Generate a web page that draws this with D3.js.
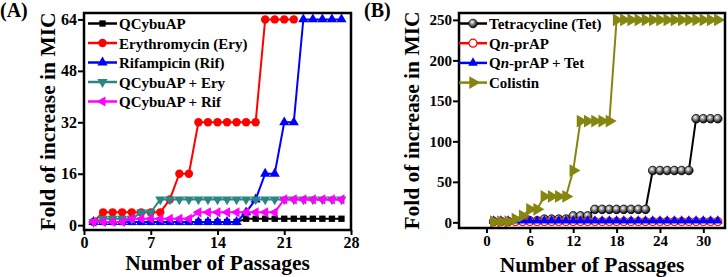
<!DOCTYPE html>
<html><head><meta charset="utf-8">
<script src="https://cdn.jsdelivr.net/npm/d3@7"></script>
<style>body{margin:0;background:#fff}svg{display:block}</style>
</head><body>
<script>
// ---------- Panel A data ----------
const passagesA = d3.range(1, 28);
const qcybuap   = [1,1,1,1,1,1,1,1,1,1,1,1,1,1,1,1,2,2,2,2,2,2,2,2,2,2,2];
const ery       = [1,4,4,4,4,4,4,4,8,16,16,32,32,32,32,32,32,32,64,64,64,64];
const rif       = [1,1,1,1,1,1,1,1,1,1,1,1,1,1,1,1,4,8,16,16,32,32,64,64,64,64,64];
const qEry      = [1,2,2,2,2,4,4,8,8,8,8,8,8,8,8,8,8,8,8,8,8,8,8,8,8,8,8];
const qRif      = [1,1,1,1,2,2,2,2,2,2,2,4,4,4,4,4,4,4,4,4,8,8,8,8,8,8,8];
const xTicksA = [0,7,14,21,28];
const yTicksA = [0,16,32,48,64];
const namesA = ["QCybuAP","Erythromycin (Ery)","Rifampicin (Rif)","QCybuAP + Ery","QCybuAP + Rif"];

// ---------- Panel B data ----------
const passagesB = d3.range(1, 33);
const tet      = [1,1,1,2,2,2,2,4,4,4,4,8,8,8,16,16,16,16,16,16,16,16,64,64,64,64,64,64,128,128,128,128];
const qnprap   = [1,1,1,1,1,1,1,1,1,1,1,1,1,1,1,1,1,1,1,1,1,1,1,1,1,1,1,1,1,1,1,1];
const qnTet    = [2,2,2,2,2,2,2,2,2,2,2,2,2,2,2,2,2,2,2,2,2,2,2,2,2,2,2,2,2,2,2,2];
const colistin = [1,1,1,4,8,16,16,32,32,32,32,64,125,125,125,125,125,250,250,250,250,250,250,250,250,250,250,250,250,250,250,250];
const xTicksB = [0,6,12,18,24,30];
const yTicksB = [0,50,100,150,200,250];
const namesB = ["Tetracycline (Tet)", "Qn-prAP", "Qn-prAP + Tet", "Colistin"];

const FONT = "Liberation Serif, Liberation Sans, sans-serif";
const svg = d3.select("body").append("svg").attr("width",728).attr("height",277);
const defs = svg.append("defs");
const g = defs.append("radialGradient").attr("id","sph").attr("cx","40%").attr("cy","35%").attr("r","65%");
g.append("stop").attr("offset","0%").attr("stop-color","#ffffff");
g.append("stop").attr("offset","35%").attr("stop-color","#9a9a9a");
g.append("stop").attr("offset","100%").attr("stop-color","#000000");

function sym(type, size){ return d3.symbol().type(type).size(size)(); }
const triDown = {draw(ctx,size){const s=Math.sqrt(size/ (Math.sqrt(3)/4)); const h=s*Math.sqrt(3)/2; ctx.moveTo(-s/2,-h/3); ctx.lineTo(s/2,-h/3); ctx.lineTo(0,2*h/3); ctx.closePath();}};
const triLeft = {draw(ctx,size){const s=Math.sqrt(size/ (Math.sqrt(3)/4)); const h=s*Math.sqrt(3)/2; ctx.moveTo(-2*h/3,0); ctx.lineTo(h/3,-s/2); ctx.lineTo(h/3,s/2); ctx.closePath();}};
const triRight = {draw(ctx,size){const s=Math.sqrt(size/ (Math.sqrt(3)/4)); const h=s*Math.sqrt(3)/2; ctx.moveTo(2*h/3,0); ctx.lineTo(-h/3,-s/2); ctx.lineTo(-h/3,s/2); ctx.closePath();}};

function drawMarker(sel, m){
  if(m.kind==="sphere"){
    sel.append("circle").attr("r",m.r).attr("fill","url(#sph)").attr("stroke","#000").attr("stroke-width",0.8);
  } else if(m.kind==="open"){
    sel.append("circle").attr("r",m.r).attr("fill","#fff").attr("stroke",m.color).attr("stroke-width",1.2);
  } else {
    sel.append("path").attr("d",sym(m.type,m.size)).attr("fill",m.color);
  }
}

function txt(sel){ return sel.style("font-family",FONT).style("font-weight","bold"); }

function panel(cfg){
  const x = d3.scaleLinear().domain(cfg.xd).range([cfg.l,cfg.r]);
  const y = d3.scaleLinear().domain(cfg.yd).range([cfg.b,cfg.t]);
  const root = svg.append("g");
  const ax = root.append("g").attr("transform",`translate(0,${cfg.b})`)
    .call(d3.axisBottom(x).tickValues(cfg.xt).tickSize(5).tickPadding(2).tickFormat(d3.format("d")));
  const ay = root.append("g").attr("transform",`translate(${cfg.l},0)`)
    .call(d3.axisLeft(y).tickValues(cfg.yt).tickSize(6).tickPadding(1).tickFormat(d3.format("d")));
  [ax,ay].forEach(a=>{a.attr("font-family",null).attr("font-size",null);
    a.select(".domain").remove();
    a.selectAll("line").attr("stroke","#000").attr("stroke-width",2);
    txt(a.selectAll("text")).attr("fill","#000").style("font-size",cfg.tickFs+"px");});
  const clipId = "clip"+cfg.id;
  defs.append("clipPath").attr("id",clipId).append("rect").attr("x",cfg.l).attr("y",cfg.t).attr("width",cfg.r-cfg.l).attr("height",cfg.b-cfg.t);
  const plot = root.append("g").attr("clip-path",`url(#${clipId})`);
  cfg.series.forEach(s=>{
    const pts = s.values.map((v,i)=>[cfg.xs[i],v]);
    plot.append("path").attr("d",d3.line().x(d=>x(d[0])).y(d=>y(d[1]))(pts))
      .attr("fill","none").attr("stroke",s.line).attr("stroke-width",2);
    plot.selectAll(null).data(pts).enter().append("g")
      .attr("transform",d=>`translate(${x(d[0])},${y(d[1])})`)
      .each(function(){drawMarker(d3.select(this), s.marker);});
  });
  root.append("rect").attr("x",cfg.l).attr("y",cfg.t).attr("width",cfg.r-cfg.l).attr("height",cfg.b-cfg.t)
    .attr("fill","none").attr("stroke","#000").attr("stroke-width",2.5);
  cfg.series.forEach((s,i)=>{
    const ly = cfg.legY + i*cfg.legDy;
    root.append("line").attr("x1",cfg.legX1).attr("x2",cfg.legX2).attr("y1",ly).attr("y2",ly).attr("stroke",s.line).attr("stroke-width",2.5);
    const mg = root.append("g").attr("transform",`translate(${(cfg.legX1+cfg.legX2)/2},${ly})`);
    drawMarker(mg, s.marker);
    const t = txt(root.append("text")).attr("x",cfg.legX2+2).attr("y",ly+5.5).style("font-size","15px").attr("fill","#000");
    if(s.italic){
      t.append("tspan").text("Q");
      t.append("tspan").style("font-style","italic").text("n");
      t.append("tspan").text(s.name.slice(2));
    } else t.text(s.name);
  });
  txt(root.append("text")).attr("x",(cfg.l+cfg.r)/2).attr("y",cfg.xTitleY).attr("text-anchor","middle").style("font-size","21.5px").text("Number of Passages");
  txt(root.append("text")).attr("transform",`translate(${cfg.yTitleX},${(cfg.t+cfg.b)/2}) rotate(-90)`).attr("text-anchor","middle").style("font-size","21.5px").text("Fold of increase in MIC");
  txt(root.append("text")).attr("x",cfg.labX).attr("y",17).style("font-size","20px").text(cfg.label);
}

panel({id:"A", label:"(A)", labX:0, xd:[0,28], yd:[-1.5,66], l:84, r:351, t:13, b:230,
  xt:xTicksA, yt:yTicksA, xs:passagesA, tickFs:16, xTitleY:270, yTitleX:55,
  legX1:88, legX2:117, legY:23.5, legDy:19.5,
  series:[
    {name:namesA[0], values:qcybuap, line:"#000", marker:{type:d3.symbolSquare,size:40,color:"#000"}},
    {name:namesA[1], values:ery, line:"#ff0000", marker:{type:d3.symbolCircle,size:55,color:"#ff0000"}},
    {name:namesA[2], values:rif, line:"#0000ff", marker:{type:d3.symbolTriangle,size:45,color:"#0000ff"}},
    {name:namesA[3], values:qEry, line:"#2a8585", marker:{type:triDown,size:45,color:"#2a8585"}},
    {name:namesA[4], values:qRif, line:"#ff00ff", marker:{type:triLeft,size:45,color:"#ff00ff"}}
  ]});

panel({id:"B", label:"(B)", labX:364, xd:[-3.8,33], yd:[-7,258.5], l:459, r:725, t:13, b:228,
  xt:xTicksB, yt:yTicksB, xs:passagesB, tickFs:15, xTitleY:272, yTitleX:419,
  legX1:459, legX2:487, legY:23.5, legDy:19.7,
  series:[
    {name:namesB[0], values:tet, line:"#000", marker:{kind:"sphere",r:4.3}},
    {name:namesB[1], values:qnprap, line:"#ff0000", italic:true, marker:{kind:"open",r:4,color:"#ff0000"}},
    {name:namesB[2], values:qnTet, line:"#0000ff", italic:true, marker:{type:d3.symbolTriangle,size:40,color:"#0000ff"}},
    {name:namesB[3], values:colistin, line:"#858510", marker:{type:triRight,size:70,color:"#858510"}}
  ]});
</script>
</body></html>
